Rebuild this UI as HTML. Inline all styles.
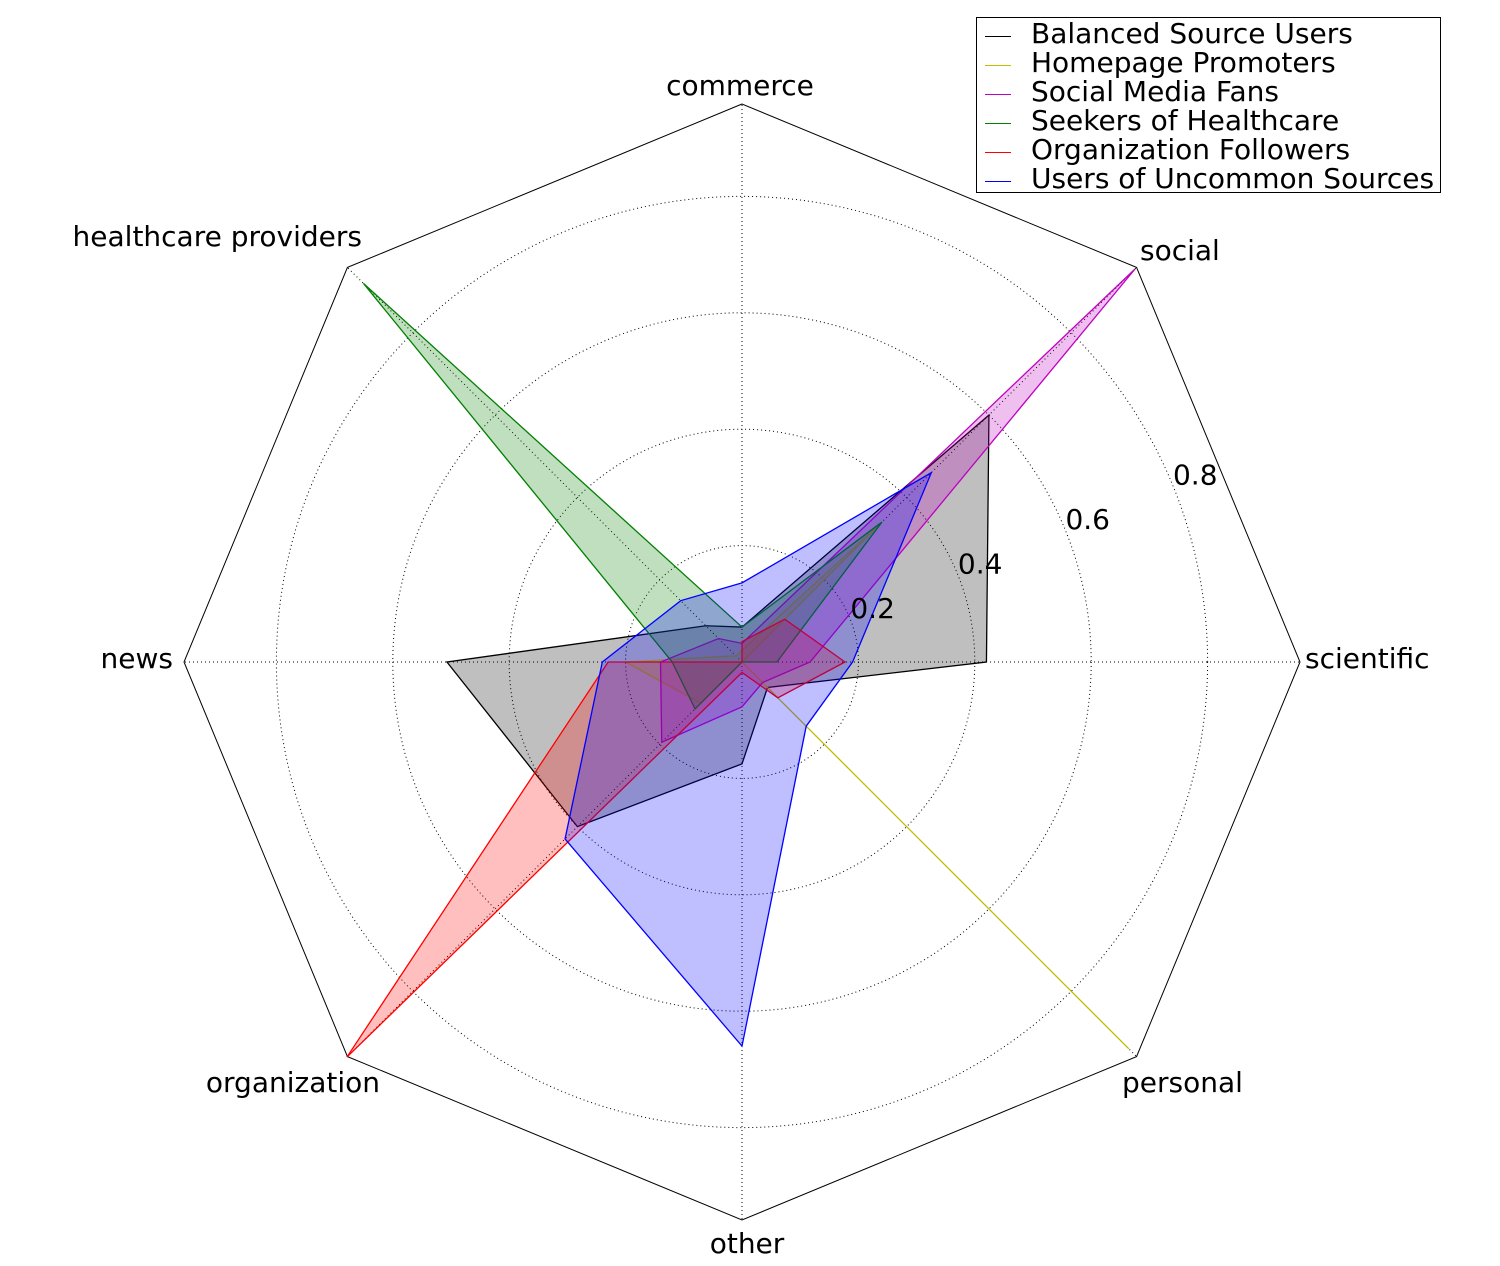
<!DOCTYPE html>
<html><head><meta charset="utf-8"><style>
html,body{margin:0;padding:0;background:#fff;width:1500px;height:1266px;overflow:hidden;font-family:"DejaVu Sans","Liberation Sans",sans-serif}
</style></head><body>
<svg id="chart" width="1500" height="1266" xmlns="http://www.w3.org/2000/svg" font-family="DejaVu Sans, Liberation Sans, sans-serif"></svg>
<script>
const categories=["commerce","healthcare providers","news","organization","other","personal","scientific","social"];
const seriesNames=["Balanced Source Users","Homepage Promoters","Social Media Fans","Seekers of Healthcare","Organization Followers","Users of Uncommon Sources"];
const balanced=[0.06,0.088,0.507,0.40,0.175,0.062,0.42,0.60];
const homepage=[0.02,0.015,0.20,0.10,0.0,0.94,0.0,0.34];
const socialFans=[0.032,0.057,0.14,0.195,0.077,0.05,0.117,0.955];
const healthcare=[0.06,0.92,0.12,0.114,0.0,0.0,0.06,0.34];
const orgFollowers=[0.035,0.0,0.23,0.96,0.018,0.087,0.177,0.104];
const uncommon=[0.136,0.149,0.24,0.43,0.66,0.156,0.19,0.46];
const tickValues=[0.2,0.4,0.6,0.8];
const tickLabels=["0.2","0.4","0.6","0.8"];

const series=[balanced,homepage,socialFans,healthcare,orgFollowers,uncommon];
const colors=["#000000","#bfbf00","#bf00bf","#008000","#ff0000","#0000ff"];
const names=["balanced-source-users","homepage-promoters","social-media-fans","seekers-of-healthcare","organization-followers","users-of-uncommon-sources"];
const cx=742,cy=662,unit=582,outerR=558;
const svg=document.getElementById('chart');
const NS="http://www.w3.org/2000/svg";
function ang(i){return Math.PI/2+i*Math.PI/4;}
function px(i,v){return [cx+Math.cos(ang(i))*v*unit, cy-Math.sin(ang(i))*v*unit];}
function mk(tag,attrs){const e=document.createElementNS(NS,tag);for(const k in attrs)e.setAttribute(k,attrs[k]);svg.appendChild(e);return e;}

tickValues.forEach((t,k)=>{
  const c=mk('circle',{cx:cx,cy:cy,r:t*unit,fill:'none',stroke:'#000','stroke-width':1,'stroke-dasharray':'1,3'});
  
  
});
categories.forEach((c,i)=>{
  const x=cx+Math.cos(ang(i))*outerR, y=cy-Math.sin(ang(i))*outerR;
  const l=mk('line',{x1:cx,y1:cy,x2:x,y2:y,stroke:'#000','stroke-width':1,'stroke-dasharray':'1,3'});
  
  
});
let fr=[];for(let i=0;i<8;i++)fr.push((cx+Math.cos(ang(i))*outerR)+','+(cy-Math.sin(ang(i))*outerR));
const frame=mk('polygon',{points:fr.join(' '),fill:'none',stroke:'#000','stroke-width':1});



series.forEach((vals,s)=>{
  const pts=vals.map((v,i)=>px(i,v).join(',')).join(' ');
  const p=mk('polygon',{points:pts,fill:colors[s],'fill-opacity':0.25,stroke:colors[s],'stroke-width':1.3,'stroke-linejoin':'miter'});
  
  
});

const anchors=['middle','end','end','end','middle','start','start','start'];
const labelPos=[[740,95],[362,246],[173,668],[380,1092],[747,1253],[1122,1092],[1305,668],[1140,260]];
categories.forEach((c,i)=>{
  const t=mk('text',{x:labelPos[i][0],y:labelPos[i][1],'font-size':28,'text-anchor':anchors[i],fill:'#000'});
  t.textContent=c;
  
  
});
tickValues.forEach((t,k)=>{
  const a=Math.PI/8, r=t*unit+25;
  const x=cx+Math.cos(a)*r, y=cy-Math.sin(a)*r;
  const e=mk('text',{x:x,y:y+10,'font-size':28,'text-anchor':'middle',fill:'#000'});
  e.textContent=tickLabels[k];
  
  
});
const lg=mk('rect',{x:976.5,y:17.5,width:464,height:175,fill:'#fff',stroke:'#000','stroke-width':1});


seriesNames.forEach((n,s)=>{
  const y=33+s*29;
  const l=mk('line',{x1:985,x2:1011,y1:y+3.5,y2:y+3.5,stroke:colors[s],'stroke-width':1});
  
  
  const t=mk('text',{x:1031,y:y+10,'font-size':28,fill:'#000'});
  t.textContent=n;
  
  
});
</script>
</body></html>
